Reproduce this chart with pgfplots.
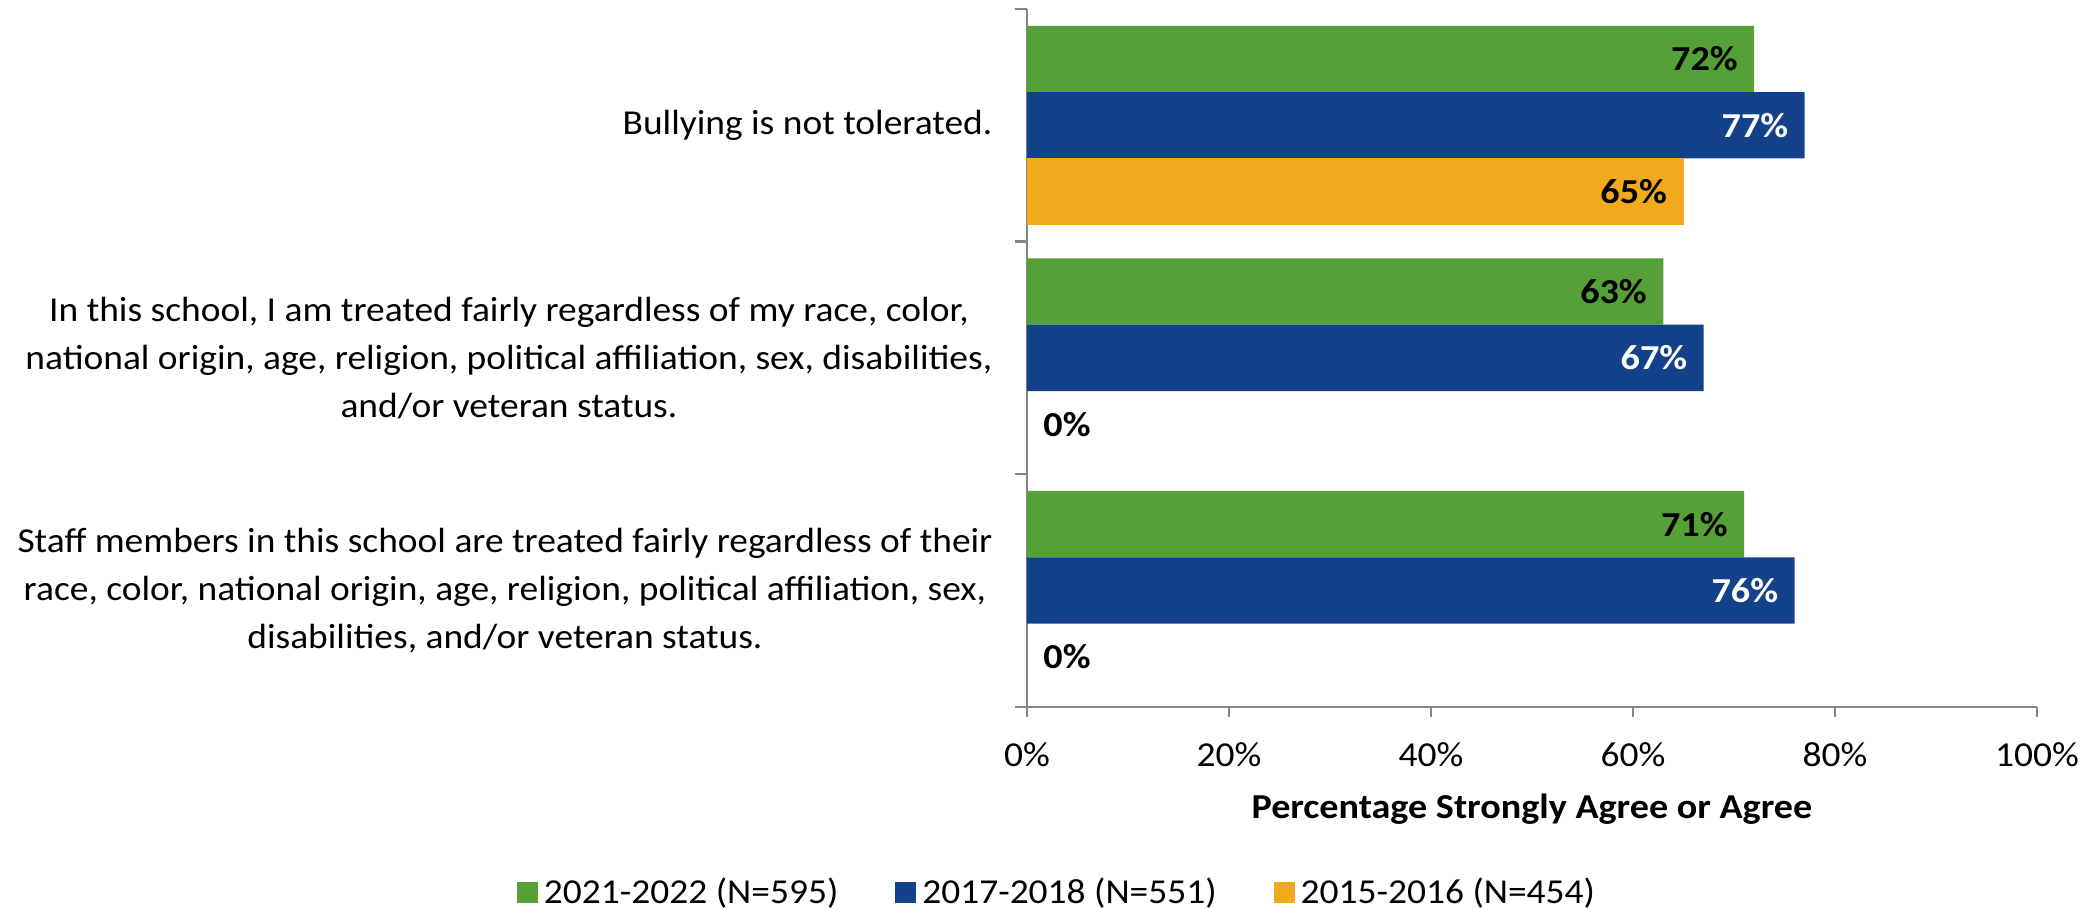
\documentclass[border=0pt]{standalone}
\usepackage{fontspec}
\setmainfont{Carlito}[FakeStretch=1.07, BoldFeatures={FakeStretch=1.09}]
\usepackage{pgfplots}
\pgfplotsset{compat=1.18}
\definecolor{cgreen}{RGB}{85,160,55}
\definecolor{cblue}{RGB}{19,66,138}
\definecolor{corange}{RGB}{240,170,27}
\definecolor{cgray}{RGB}{134,134,134}
\begin{document}
\begin{tikzpicture}[font=\fontsize{11.67}{14}\selectfont]
\useasboundingbox (0,0) rectangle (699pt,302.67pt);
\begin{axis}[
  at={(342.33pt,67.1pt)}, anchor=south west,
  scale only axis, width=336.67pt, height=232.56pt,
  xbar, bar width=22.1pt,
  xmin=0, xmax=100, ymin=-0.5, ymax=2.5,
  axis x line*=bottom, axis y line*=left,
  axis line style={cgray, line width=0.8pt},
  tick align=outside,
  xtick={0,20,40,60,80,100},
  xticklabel={\pgfmathprintnumber{\tick}\%},
  xticklabel style={yshift=-5pt},
  /pgf/number format/assume math mode=true,
  major x tick style={cgray, line width=0.8pt},
  major tick length=3.5pt,
  ytick={0,1,2},
  yticklabels={{Staff members in this school are treated fairly regardless of their\\race, color, national origin, age, religion, political affiliation, sex,\\disabilities, and/or veteran status.},{In this school, I am treated fairly regardless of my race, color,\\national origin, age, religion, political affiliation, sex, disabilities,\\and/or veteran status.},{Bullying is not tolerated.}},
  major y tick style={draw=none},
  minor ytick={-0.5,0.5,1.5,2.5},
  minor y tick style={cgray, line width=0.8pt},
  minor tick length=4pt,
  yticklabel style={align=center, font=\fontsize{11.67}{16}\selectfont, xshift=-4.5pt},
  xlabel={\bfseries Percentage Strongly Agree or Agree},
  xlabel style={at={(axis description cs:0.5,-0.1466)}, anchor=center},
  point meta=x,
  nodes near coords={\pgfmathprintnumber{\pgfplotspointmeta}\%},
  every node near coord/.append style={font=\fontsize{11.67}{14}\selectfont\bfseries, anchor=east, inner sep=0pt, xshift=-5.3pt},
  legend columns=3,
  legend style={draw=none, fill=none, at={(axis description cs:0.0317,-0.267)}, anchor=center,
    /tikz/every even column/.append style={column sep=17pt}},
  legend image code/.code={\draw[#1, draw=none] (0pt,-3.5pt) rectangle (7pt,3.5pt);},
]
\addplot[fill=cgreen, draw=none, bar shift=22.1pt, every node near coord/.append style={text=black}] coordinates {(71,0) (63,1) (72,2)};
\addlegendentry{2021-2022 (N=595)}
\addplot[fill=cblue, draw=none, bar shift=0pt, every node near coord/.append style={text=white}] coordinates {(76,0) (67,1) (77,2)};
\addlegendentry{2017-2018 (N=551)}
\addplot[fill=corange, draw=none, bar shift=-22.1pt, every node near coord/.append style={text=black}] coordinates {(65,2)};
\addlegendentry{2015-2016 (N=454)}
\addplot[draw=none, fill=none, bar shift=-22.1pt, forget plot, every node near coord/.append style={text=black, anchor=west, xshift=10.6pt}] coordinates {(0,0) (0,1)};
\end{axis}
\end{tikzpicture}
\end{document}
